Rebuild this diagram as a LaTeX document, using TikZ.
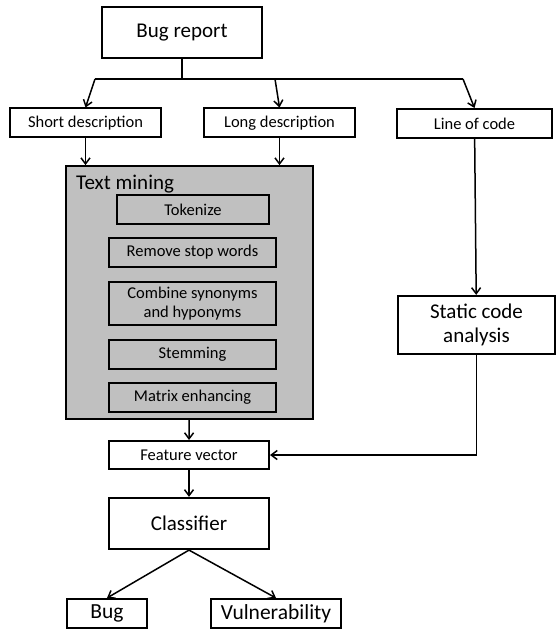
\documentclass[tikz,border=0pt]{standalone}
\usepackage{fontspec}
\setmainfont{Carlito}
\usepackage{tikz}
\usetikzlibrary{arrows.meta,positioning,calc}

\definecolor{mininggray}{RGB}{192,192,192}

\begin{document}
\begin{tikzpicture}[
    x=1pt, y=-1pt,
    >={Straight Barb[length=6pt,width=9pt]},
    bigbox/.style={rectangle, draw, line width=2.2pt, fill=white, align=center, font=\fontsize{21}{24}\selectfont},
    smallbox/.style={rectangle, draw, line width=2pt, fill=white, minimum height=29pt, inner sep=1pt, font=\fontsize{16.5}{18}\selectfont},
    stepbox/.style={rectangle, draw, line width=2pt, fill=mininggray, minimum width=167pt, minimum height=29pt, inner sep=1pt, align=center, font=\fontsize{16.5}{19.5}\selectfont},
    arrow/.style={->, line width=1.5pt},
    line/.style={line width=1.5pt}
]
\useasboundingbox (0,0) rectangle (556,631);

\node[bigbox, minimum width=160pt, minimum height=51pt] (report) at (182,32.5) {Bug report};

\node[smallbox, minimum width=151pt] (short) at (85.5,123) {Short description};
\node[smallbox, minimum width=151pt] (long) at (279.5,123) {Long description};
\node[smallbox, minimum width=155pt] (code) at (474.5,123.5) {Line of code};

% text mining block
\node[draw, line width=1.8pt, fill=mininggray, minimum width=247pt, minimum height=253pt] (mining) at (189.5,292.5) {};
\node[anchor=north west, inner sep=0, font=\fontsize{21}{24}\selectfont] (mininglabel) at (76,175) {Text mining};
\node[stepbox, minimum width=152pt] (tokenize) at (193,209.5) {Tokenize};
\node[stepbox] (stopwords) at (192.5,252.5) {Remove stop words};
\node[stepbox, minimum height=43pt] (synonyms) at (192.5,303.5) {Combine synonyms\\and hyponyms};
\node[stepbox] (stemming) at (192.5,354) {Stemming};
\node[stepbox] (enhancing) at (192.5,397.5) {Matrix enhancing};

\node[bigbox, minimum width=157pt, minimum height=58pt] (static) at (476.5,325) {Static code\\analysis};

\node[smallbox, minimum width=160pt, minimum height=28pt] (feature) at (189,455) {Feature vector};
\node[bigbox, minimum width=160pt, minimum height=51pt] (classifier) at (189,523.5) {Classifier};

\node[smallbox, minimum width=80pt, font=\fontsize{21.5}{24}\selectfont] (bug) at (107,613.5) {Bug};
\node[smallbox, minimum width=130pt, font=\fontsize{21.5}{24}\selectfont] (vuln) at (276,613.5) {Vulnerability};

% split of the bug report
\coordinate (split) at (182,79);
\coordinate (splitleft) at (95,79);
\coordinate (splitmid) at (275,79);
\coordinate (splitright) at (463,79);

\draw[line] (report) -- (split);
\draw[line] (splitleft) -- (splitright);
\draw[arrow] (splitleft) -- (short.north);
\draw[arrow] (splitmid) -- (long.north);
\draw[arrow] (splitright) -- (code.north);

\draw[arrow] (short.south) -- (mining.north -| short.south);
\draw[arrow] (long.south) -- (mining.north -| long.south);
\draw[arrow] (code) -- (static);

\draw[arrow] (mining) -- (feature);
\draw[arrow] (static.south) |- (feature.east);
\draw[arrow] (feature) -- (classifier);

\draw[arrow] (classifier.south) -- (bug.north);
\draw[arrow] (classifier.south) -- (vuln.north);

\end{tikzpicture}
\end{document}
